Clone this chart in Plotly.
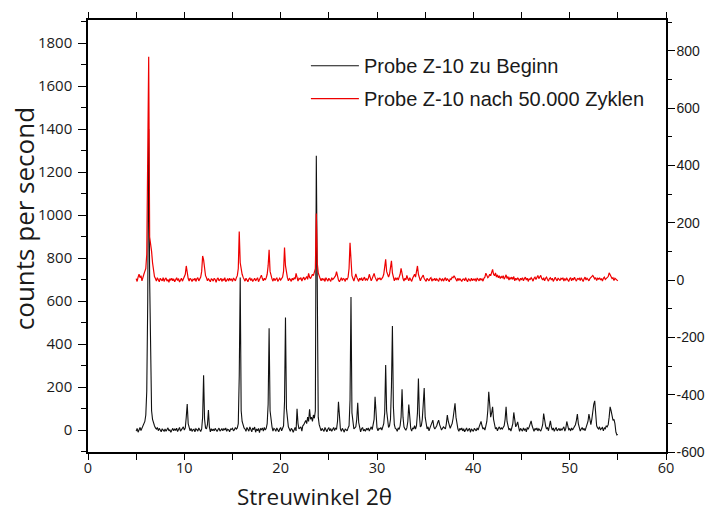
import numpy as np
import plotly.graph_objects as go

# Scan grid: 5.0° .. 55.0° in 0.1° steps (one row below = one degree, 10 samples)
scan_start = 5.0
scan_step = 0.1

# Probe Z-10 zu Beginn (left axis, counts per second)
beginn_rows = [
    [-5, 8, -10, 5, 12, -2, 10, 20, 25, 40],          # 5
    [70, 180, 600, 1400, 700, 200, 90, 50, 30, 20],   # 6
    [10, 5, 12, -3, 8, 0, -8, 6, 2, -5],              # 7
    [5, -6, 3, 10, -4, 2, -10, 4, 8, -3],             # 8
    [6, -2, 9, -7, 3, 12, -5, 2, 7, 15],              # 9
    [0, 10, 60, 121, 30, 5, -4, 8, -6, 2],            # 10
    [4, -8, 6, 2, -5, 10, 3, -7, 5, 60],              # 11
    [255, 50, 10, 5, 25, 93, 15, -8, 6, -3],          # 12
    [5, -4, 8, 0, -7, 3, 9, -5, 2, 6],                # 13
    [-3, 7, 0, 10, -6, 4, 1, -8, 5, 3],               # 14
    [8, -4, 2, 12, 5, 10, 30, 250, 710, 90],          # 15
    [40, 20, 10, 5, -6, 12, 0, -5, 15, 3],            # 16
    [-8, 10, 2, 14, -10, 5, -3, 8, -12, 6],           # 17
    [2, 10, -5, 12, 0, 8, 30, 120, 473, 90],          # 18
    [30, 15, -5, 8, 4, -6, 10, 2, -8, 5],             # 19
    [12, -4, 6, 20, 130, 524, 100, 35, 15, 5],        # 20
    [-6, 8, 2, -10, 5, 12, -4, 99, 30, 5],            # 21
    [10, 15, -5, 20, 25, 35, 45, 30, 60, 40],         # 22
    [97, 50, 60, 40, 70, 55, 90, 1276, 300, 60],      # 23
    [25, 10, -4, 8, 3, -6, 12, 0, -8, 5],             # 24
    [10, -3, 7, -6, 4, 12, -2, 8, 5, 40],             # 25
    [131, 30, 5, -6, 8, 0, -10, 6, 3, -4],            # 26
    [10, 20, 140, 619, 80, 20, 5, 10, 15, 50],        # 27
    [127, 35, 5, -8, 6, 12, -4, 3, -6, 8],            # 28
    [0, 10, -5, 6, 15, 2, 20, 50, 155, 40],           # 29
    [10, -3, 8, 5, 12, 0, 15, 30, 80, 302],           # 30
    [90, 30, 12, 20, 50, 200, 484, 110, 25, 8],       # 31
    [5, -6, 10, 3, 20, 60, 190, 60, 15, 5],           # 32
    [0, 10, 40, 119, 30, 8, -5, 10, 5, 20],           # 33
    [5, 20, 80, 240, 70, 15, 20, 50, 120, 196],       # 34
    [60, 20, 5, 15, -4, 10, 25, 35, 46, 15],          # 35
    [5, 12, 20, 35, 46, 25, 10, 0, 8, 15],            # 36
    [10, 5, 30, 70, 40, 15, 8, 20, 30, 55],           # 37
    [90, 124, 60, 20, 5, -6, 8, 0, 10, -4],           # 38
    [6, -8, 3, 10, -5, 2, 8, -10, 5, 0],              # 39
    [-6, 8, 3, -4, 10, 0, 15, 30, 40, 20],            # 40
    [5, 10, 0, 20, 40, 90, 178, 120, 60, 80],         # 41
    [108, 50, 20, 5, 12, -4, 8, 15, 3, 10],           # 42
    [5, 10, 20, 50, 108, 40, 10, 0, 8, -5],           # 43
    [12, 30, 82, 40, 15, 25, 38, 15, -6, 8],          # 44
    [3, -5, 10, 0, 6, -8, 12, 4, 15, 30],             # 45
    [43, 20, 5, -6, 8, 0, 10, -4, 6, 2],              # 46
    [-5, 8, 25, 77, 40, 20, 5, 10, -3, 20],           # 47
    [43, 15, 0, 10, -6, 5, 12, -4, 3, 8],             # 48
    [-3, 6, 0, 10, 15, -5, 8, 40, 15, 2],             # 49
    [6, -4, 10, 0, 8, 15, 25, 45, 74, 30],            # 50
    [10, -5, 5, 12, 0, 8, -3, 15, 25, 40],            # 51
    [74, 40, 25, 50, 90, 120, 136, 60, 20, 10],       # 52
    [5, 15, 0, 8, 12, -4, 10, 6, 20, 15],             # 53
    [25, 60, 108, 90, 60, 45, 50, 30, -10, -23],      # 54
    [-20],                                            # 55
]

# Probe Z-10 nach 50.000 Zyklen (right axis)
zyklen_rows = [
    [5, -5, 10, 20, 8, 15, -3, 12, 20, 30],           # 5
    [40, 90, 350, 779, 150, 130, 100, 60, 30, 12],    # 6
    [5, -4, 8, 0, -6, 6, 2, -3, 8, -5],               # 7
    [3, 7, -4, 2, -8, 5, 0, 6, -3, 4],                # 8
    [-6, 3, 8, -2, 5, -7, 2, 6, -4, 3],               # 9
    [8, 20, 49, 20, 5, -4, 6, 2, -5, 3],              # 10
    [0, 6, -5, 4, 8, -3, 5, 10, 30, 84],              # 11
    [70, 30, 15, 8, -3, 5, 0, -6, 4, 2],              # 12
    [-4, 6, 2, -8, 3, 7, -3, 0, 6, -5],               # 13
    [4, -2, 8, -6, 2, 5, -4, 6, 0, 3],                # 14
    [-5, 7, 2, -3, 8, 15, 40, 169, 60, 35],           # 15
    [20, 10, 5, -4, 6, 2, -6, 3, 8, -2],              # 16
    [5, -5, 0, 6, -3, 4, 8, -6, 2, 10],               # 17
    [17, 5, -3, 6, 0, 8, 20, 50, 105, 30],            # 18
    [12, 4, -4, 6, -2, 3, 8, -5, 2, 6],               # 19
    [0, 5, 10, 30, 113, 50, 20, 8, -3, 5],            # 20
    [2, -5, 6, 0, 8, 3, 23, 10, -4, 6],               # 21
    [3, 8, -4, 5, 10, 0, 6, 12, 2, 23],               # 22
    [10, 5, 12, 20, 15, 25, 40, 232, 59, 25],         # 23
    [10, 5, -3, 6, 0, 4, -5, 8, 2, -4],               # 24
    [6, 0, -5, 8, 2, 5, 10, 15, 29, 8],               # 25
    [0, -6, 4, 8, -2, 5, 3, -5, 6, 2],                # 26
    [10, 40, 130, 45, 15, 5, -4, 8, 21, 10],          # 27
    [2, -5, 6, 0, 8, -3, 4, 10, -2, 5],               # 28
    [0, 6, 20, 8, -3, 5, 12, 23, 10, 2],              # 29
    [-4, 6, 3, 8, 0, 5, 10, 20, 40, 72],              # 30
    [30, 15, 10, 20, 40, 67, 25, 8, -3, 6],           # 31
    [2, 8, 0, 10, 20, 41, 15, 5, -4, 6],              # 32
    [0, 16, 5, -3, 8, 2, -5, 6, 12, 20],              # 33
    [10, 30, 49, 20, 5, -3, 6, 10, 17, 5],            # 34
    [0, -5, 6, 2, -3, 5, 8, -4, 3, 0],                # 35
    [6, -3, 4, 0, -5, 7, 2, -2, 5, -4],               # 36
    [3, 8, -3, 5, 0, -6, 4, 2, 10, 8],                # 37
    [15, 10, 2, -4, 6, -2, 5, 0, -5, 3],              # 38
    [4, -3, 8, 0, -6, 5, 2, -4, 6, -2],               # 39
    [3, 0, 5, -5, 7, 2, -3, 6, 0, 4],                 # 40
    [-4, 6, 10, 24, 15, 8, 12, 20, 15, 25],           # 41
    [37, 20, 15, 25, 10, 18, 8, 15, 5, 12],           # 42
    [8, 15, 3, 10, 18, 5, 12, 0, 8, 4],               # 43
    [10, 2, 12, -3, 6, 0, 8, 3, -4, 6],               # 44
    [2, 8, -3, 5, 10, 0, 6, -5, 4, 2],                # 45
    [8, 3, -4, 6, 10, 2, 7, 16, 5, 10],               # 46
    [16, 5, 0, 8, -3, 6, 10, 2, -4, 5],               # 47
    [8, 0, 6, -5, 3, 10, 2, -3, 7, 4],                # 48
    [-2, 6, 3, 8, -4, 5, 0, 6, 2, -5],                # 49
    [4, 8, -3, 6, 0, 10, 2, -4, 5, 3],                # 50
    [6, -2, 8, 3, -5, 4, 10, 0, 6, 2],                # 51
    [-3, 5, 8, 12, 16, 10, 4, 8, -2, 6],              # 52
    [3, 8, 0, 5, -4, 6, 10, 2, 5, 8],                 # 53
    [12, 25, 18, 10, 5, 8, -2, 6, 3, -3],             # 54
    [-3],                                             # 55
]

beginn_cps = [v for row in beginn_rows for v in row]
zyklen_cps = [v for row in zyklen_rows for v in row]
two_theta = np.round(scan_start + scan_step * np.arange(len(beginn_cps)), 1)

series_names = ["Probe Z-10 zu Beginn", "Probe Z-10 nach 50.000 Zyklen"]
x_title = "Streuwinkel 2θ"
y_title = "counts per second"

# Right-axis tick values and their labels (hyphen minus as in the original)
right_tickvals = [-600, -400, -200, 0, 200, 400, 600, 800]
right_ticktext = ["-600", "-400", "-200", "0", "200", "400", "600", "800"]

TXT = "#1a1a1a"
SANS = "Open Sans, Noto Sans, sans-serif"
ARIAL = "Liberation Sans, Arial, sans-serif"

fig = go.Figure()
fig.add_trace(go.Scatter(
    x=two_theta, y=beginn_cps, mode="lines", name=series_names[0],
    line=dict(color="#111111", width=1.1), yaxis="y", legendgroup="a",
))
fig.add_trace(go.Scatter(
    x=two_theta, y=zyklen_cps, mode="lines", name=series_names[1],
    line=dict(color="#ee0000", width=1.2), yaxis="y2", legendgroup="b",
))

fig.update_layout(
    width=710, height=515,
    margin=dict(l=88, r=44, t=20, b=63, autoexpand=False),
    paper_bgcolor="white", plot_bgcolor="white",
    showlegend=True,
    legend=dict(
        x=0.377, y=0.9394, xanchor="left", yanchor="top",
        bgcolor="rgba(0,0,0,0)", borderwidth=0,
        font=dict(family=ARIAL, size=20, color=TXT),
        traceorder="grouped", tracegroupgap=4, itemwidth=48,
    ),
    xaxis=dict(
        automargin=False,
        range=[0, 60], dtick=10, tick0=0,
        ticks="outside", ticklen=6, tickwidth=1.2, tickcolor="black",
        minor=dict(dtick=5, ticks="outside", ticklen=6, tickwidth=1.2, tickcolor="black"),
        showline=True, linecolor="black", linewidth=1.5, mirror="allticks",
        showgrid=False, zeroline=False,
        tickfont=dict(family=SANS, size=14.5, color=TXT),
        ticklabelstandoff=-4,
    ),
    yaxis=dict(
        automargin=False,
        range=[-102, 1907], dtick=200, tick0=0,
        ticks="outside", ticklen=8, tickwidth=1.2, tickcolor="black",
        minor=dict(dtick=100, ticks="outside", ticklen=5, tickwidth=1.2, tickcolor="black"),
        showline=True, linecolor="black", linewidth=1.5,
        showgrid=False, zeroline=False,
        tickfont=dict(family=SANS, size=15, color=TXT),
        ticklabelstandoff=3,
    ),
    yaxis2=dict(
        automargin=False,
        overlaying="y", side="right",
        range=[-600, 907],
        tickmode="array", tickvals=right_tickvals, ticktext=right_ticktext,
        ticks="outside", ticklen=7, tickwidth=1.2, tickcolor="black",
        minor=dict(dtick=100, tick0=0, ticks="outside", ticklen=4, tickwidth=1.2, tickcolor="black"),
        showline=True, linecolor="black", linewidth=1.5,
        showgrid=False, zeroline=False,
        tickfont=dict(family=ARIAL, size=14, color=TXT),
        ticklabelstandoff=-1,
    ),
    annotations=[
        dict(text=x_title, xref="paper", yref="paper", x=0.3927, y=-0.104,
             xanchor="center", yanchor="middle", showarrow=False,
             font=dict(family=SANS, size=22.5, color=TXT)),
        dict(text=y_title, xref="paper", yref="paper", x=-0.1107, y=0.539,
             xanchor="center", yanchor="middle", showarrow=False, textangle=-90,
             font=dict(family=SANS, size=26, color=TXT)),
    ],
)

fig.write_html("out.html")
